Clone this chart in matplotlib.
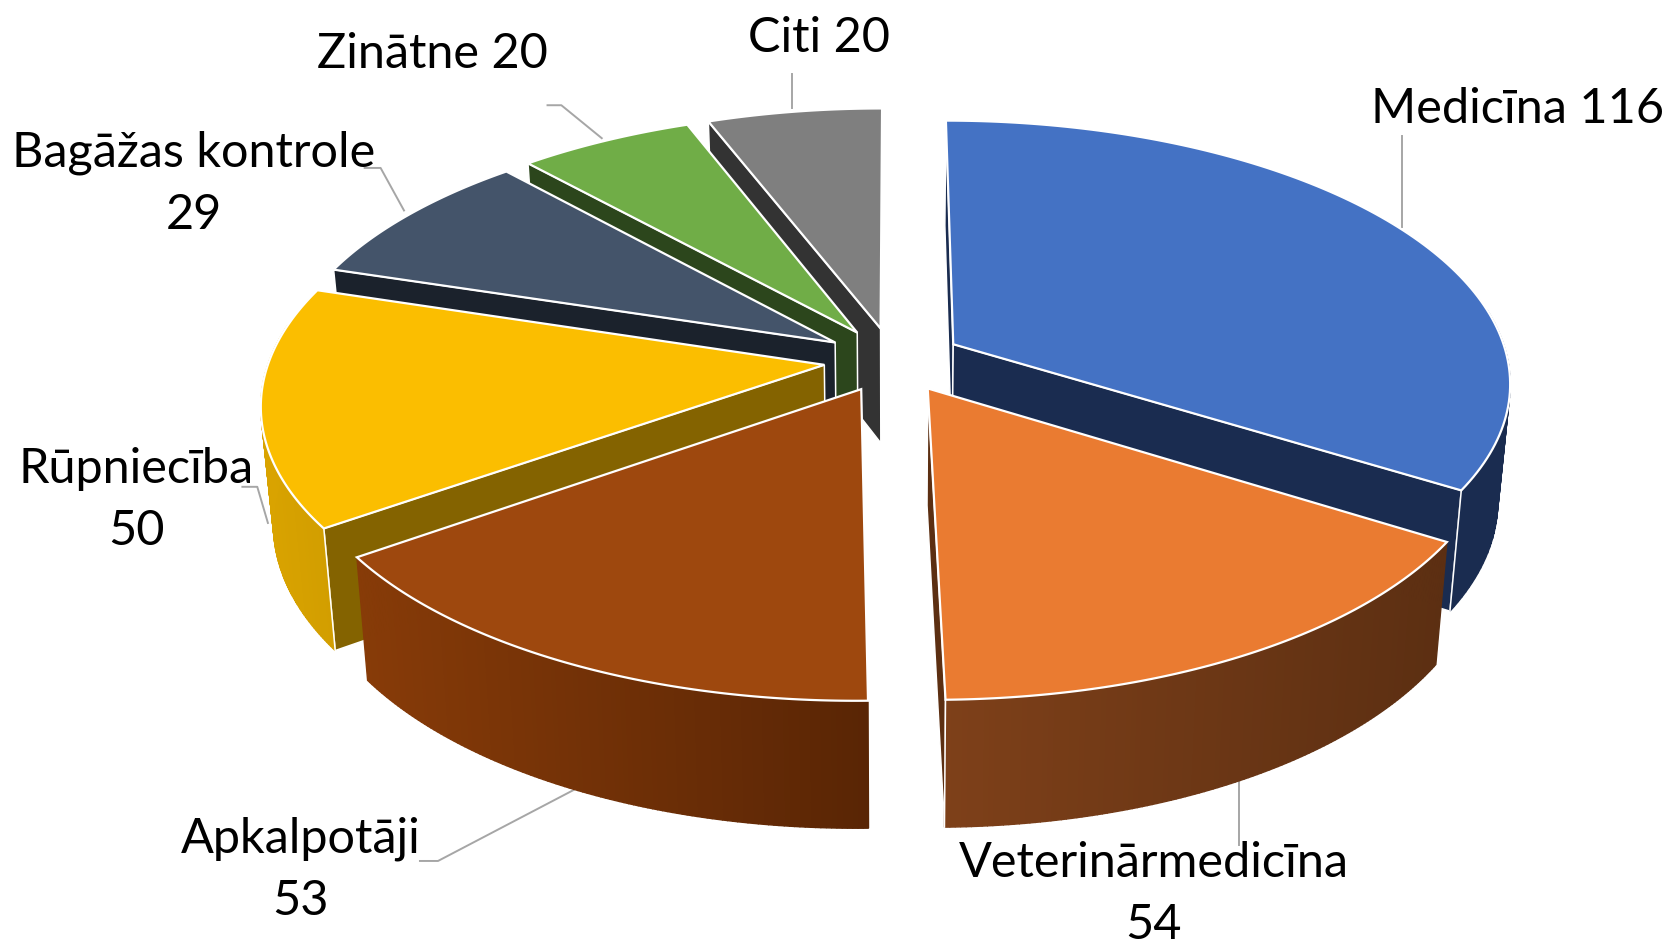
import numpy as np
import matplotlib
matplotlib.use("Agg")
import matplotlib.pyplot as plt
from matplotlib.colors import to_rgb

plt.rcParams['font.family'] = ['Lato', 'DejaVu Sans']

# data
categories = ['Medicīna', 'Veterinārmedicīna', 'Apkalpotāji', 'Rūpniecība',
              'Bagāžas kontrole', 'Zinātne', 'Citi']
values = [116, 54, 53, 50, 29, 20, 20]

# colours
top_colors = ['#4472C4', '#EA7B31', '#9E480E', '#FBBE00', '#44546A', '#70AD47', '#7F7F7F']
cut_colors = ['#1A2C50', '#5C2F12', '#592505', '#846300', '#1B222C', '#2C461C', '#333333']
rim_left = ['#1A2C50', '#7E4019', '#873B08', '#D9A300', '#1B222C', '#2C461C', '#333333']
rim_right = ['#1A2C50', '#5C2F12', '#592505', '#D29E00', '#1B222C', '#2C461C', '#333333']

# labels: centre of text, and leader line
label_pos = [(1427, 103), (1085, 841), (283, 818), (128, 470), (182, 173), (407, 51), (770, 36)]
label_text = ['Medicīna 116', 'Veterinārmedicīna\n54', 'Apkalpotāji\n53', 'Rūpniecība\n50',
              'Bagāžas kontrole\n29', 'Zinātne 20', 'Citi 20']
leaders = [[(1319, 128), (1319, 214)],
           [(1165, 735), (1165, 795)],
           [(540, 743), (412, 810), (395, 810)],
           [(252, 492), (242, 458), (228, 458)],
           [(380, 198), (358, 158), (343, 158)],
           [(566, 130), (528, 99), (515, 99)],
           [(745, 70), (745, 102)]]

# pie geometry, in the 1568x890 frame
cx, cy = 840, 338.5
rx, ry = 522, 243.7
persp = 0.14
explode = 0.125
depth = 109
bottom_shrink = 0.98

# painter's order, back to front
draw_order = [6, 5, 4, 3, 0, 1, 2]


def project(x, y, low=False):
    s = 1 / (1 + persp * y)
    px = cx + rx * x * s
    py = cy - ry * y * s
    if low:
        px = cx + (px - cx) * bottom_shrink
        py = py + depth * (1 - 0.09 * y)
    return px, py


fig = plt.figure(figsize=(16.67, 9.46), dpi=100)
ax = fig.add_axes([0, 0, 1, 1])
ax.set_xlim(0, 1568)
ax.set_ylim(890, 0)
ax.axis('off')

angles = np.cumsum([0] + values) / sum(values) * 2 * np.pi

# leader lines go under the pie
for pts in leaders:
    xs, ys = zip(*pts)
    ax.plot(xs, ys, color='#A6A6A6', lw=1.4, zorder=0.5)

z = 1
for i in draw_order:
    a0, a1 = angles[i], angles[i + 1]
    mid = (a0 + a1) / 2
    ox, oy = explode * np.sin(mid), explode * np.cos(mid)
    th = np.linspace(a0, a1, 120)
    wx = ox + np.sin(th)
    wy = oy + np.cos(th)

    tx, ty = project(wx, wy)
    bx, by = project(wx, wy, low=True)
    ax_top = project(ox, oy)
    ax_low = project(ox, oy, low=True)

    # cut faces, only the ones turned to the viewer
    for k, show in ((0, np.sin(a0) <= 0), (-1, np.sin(a1) > 0)):
        if show:
            ax.fill([ax_top[0], tx[k], bx[k], ax_low[0]], [ax_top[1], ty[k], by[k], ax_low[1]],
                    fc=cut_colors[i], ec='white', lw=1.1, zorder=z)

    # outer wall, strips with a colour ramp
    c0, c1 = np.array(to_rgb(rim_left[i])), np.array(to_rgb(rim_right[i]))
    xmin, xmax = tx.min(), tx.max()
    for j in range(len(th) - 1):
        if np.cos(th[j]) > 0.15:
            continue
        f = ((tx[j] + tx[j + 1]) / 2 - xmin) / max(xmax - xmin, 1)
        col = c0 + (c1 - c0) * f
        ax.fill([tx[j], tx[j + 1], bx[j + 1], bx[j]], [ty[j], ty[j + 1], by[j + 1], by[j]],
                color=col, lw=1.0, zorder=z)

    # corner lines between the walls
    for k, show in ((0, np.sin(a0) <= 0), (-1, np.sin(a1) > 0)):
        if show and np.cos(th[k]) <= 0.15:
            ax.plot([tx[k], bx[k]], [ty[k], by[k]], color='white', lw=1.1, zorder=z)

    # top face
    ax.fill(np.r_[ax_top[0], tx], np.r_[ax_top[1], ty], fc=top_colors[i], ec='white', lw=1.6, zorder=z)
    z += 1

for (x, y), t in zip(label_pos, label_text):
    ax.text(x, y, t, ha='center', va='center', fontsize=35, color='black', linespacing=1.5, zorder=20)

fig.savefig('out.png', dpi=100)
